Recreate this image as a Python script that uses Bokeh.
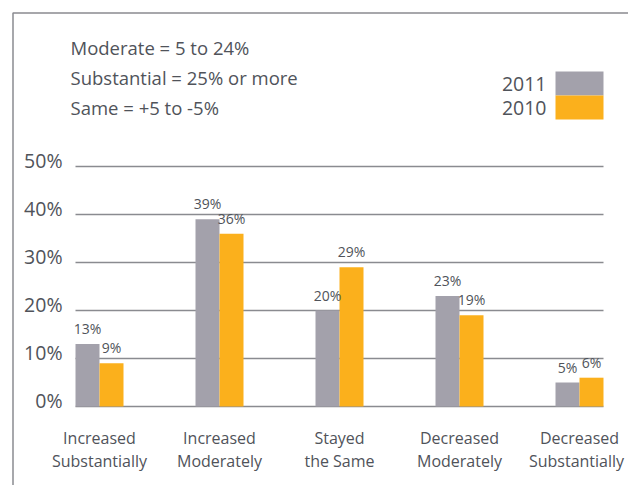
from bokeh.plotting import figure
from bokeh.models import Range1d
from bokeh.core.properties import value
from bokeh.embed import file_html
from bokeh.resources import INLINE

# ---- data ----
categories = ["Increased Substantially", "Increased Moderately", "Stayed the Same",
              "Decreased Moderately", "Decreased Substantially"]
cat_line1 = ["Increased", "Increased", "Stayed", "Decreased", "Decreased"]
cat_line2 = ["Substantially", "Moderately", "the Same", "Moderately", "Substantially"]
values_2011 = [13, 39, 20, 23, 5]
values_2010 = [9, 36, 29, 19, 6]
y_ticks = [0, 10, 20, 30, 40, 50]
y_tick_labels = ["0%", "10%", "20%", "30%", "40%", "50%"]
notes = ["Moderate = 5 to 24%", "Substantial = 25% or more", "Same = +5 to -5%"]
series = ["2011", "2010"]

# ---- layout (pixels) ----
W, H = 628, 485
X0, DX = 99.0, 120.0   # pixel of category 0 center, pixels per category
Y0, DY = 406.0, 4.8    # pixel of 0%, pixels per percent


def dx(px):
    return (px - X0) / DX


def dy(py):
    return (Y0 - py) / DY


GRAY = "#a3a1ab"
ORANGE = "#fbb01c"
TEXT = "#50535a"
LINE = "#8a8b90"
FONT = value("Open Sans")

p = figure(width=W, height=H, output_backend="svg", toolbar_location=None,
           x_range=Range1d(dx(0), dx(W)), y_range=Range1d(dy(H), dy(0)),
           min_border=0, min_border_left=0, min_border_right=0,
           min_border_top=0, min_border_bottom=0)
p.axis.visible = False
p.grid.visible = False
p.outline_line_color = None
p.background_fill_color = "white"
p.border_fill_color = "white"

xs = list(range(len(categories)))
bw = 0.2

# frame lines (left + top)
p.line(x=[dx(12.5), dx(12.5), dx(W)], y=[dy(H), dy(12.5), dy(12.5)],
       line_color=LINE, line_width=1.5)

# gridlines
p.segment(x0=[xs[0] - bw] * len(y_ticks), x1=[xs[-1] + bw] * len(y_ticks),
          y0=y_ticks, y1=y_ticks, line_color=LINE, line_width=1.5)

# bars
p.vbar(x=[x - bw / 2 for x in xs], top=values_2011, width=bw, bottom=0,
       fill_color=GRAY, line_color=None)
p.vbar(x=[x + bw / 2 for x in xs], top=values_2010, width=bw, bottom=0,
       fill_color=ORANGE, line_color=None)

# bar value labels
p.text(x=[x - bw / 2 for x in xs], y=values_2011, text=[f"{v}%" for v in values_2011],
       text_align="center", text_baseline="bottom", y_offset=-6,
       text_font=FONT, text_font_size="14px", text_color=TEXT)
p.text(x=[x + bw / 2 for x in xs], y=values_2010, text=[f"{v}%" for v in values_2010],
       text_align="center", text_baseline="bottom", y_offset=-6,
       text_font=FONT, text_font_size="14px", text_color=TEXT)

# y tick labels
p.text(x=[dx(62)] * len(y_ticks), y=y_ticks, text=y_tick_labels,
       text_align="right", text_baseline="middle", y_offset=-6,
       text_font=FONT, text_font_size="19.5px", text_color=TEXT)

# category labels
p.text(x=xs, y=[dy(437)] * len(xs), text=cat_line1, text_align="center",
       text_baseline="middle", text_font=FONT, text_font_size="16px", text_color=TEXT)
p.text(x=xs, y=[dy(460)] * len(xs), text=cat_line2, text_align="center",
       text_baseline="middle", text_font=FONT, text_font_size="16px", text_color=TEXT,
       x_offset=[0, 0, 0, 0, -3])

# notes
p.text(x=[dx(70)] * 3, y=[dy(47), dy(77), dy(107)], text=notes,
       text_align="left", text_baseline="middle",
       text_font=FONT, text_font_size="18.5px", text_color=TEXT)

# legend
p.quad(left=[dx(555)] * 2, right=[dx(603)] * 2, top=[dy(71), dy(95)],
       bottom=[dy(95), dy(119)], fill_color=[GRAY, ORANGE], line_color=None)
p.text(x=[dx(546)] * 2, y=[dy(83), dy(107)], text=series,
       text_align="right", text_baseline="middle",
       text_font=FONT, text_font_size="19.5px", text_color=TEXT)

open("out.html", "w").write(file_html(p, INLINE))
